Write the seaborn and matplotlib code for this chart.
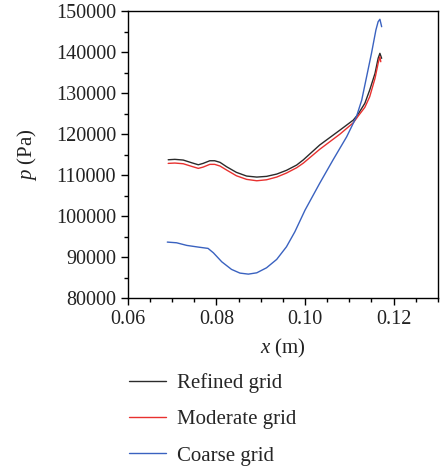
import numpy as np
import pandas as pd
import seaborn as sns
import matplotlib.pyplot as plt
from matplotlib.ticker import MultipleLocator

# refined grid
x_ref = [0.0691, 0.0706, 0.0725, 0.0744, 0.0759, 0.0770, 0.0785, 0.0796, 0.0808, 0.0823,
         0.0845, 0.0868, 0.0891, 0.0913, 0.0936, 0.0958, 0.0981, 0.0996, 0.1033, 0.1079,
         0.1109, 0.1120, 0.1135, 0.1146, 0.1158, 0.1165, 0.1169, 0.1173]
p_ref = [113730, 113830, 113660, 113000, 112510, 112850, 113490, 113490, 113100, 112020,
         110660, 109760, 109510, 109680, 110240, 111150, 112440, 113700, 117320, 120980,
         123410, 124880, 127490, 130730, 134800, 138460, 139680, 138460]

# moderate grid
x_mod = [0.0691, 0.0706, 0.0725, 0.0744, 0.0759, 0.0770, 0.0785, 0.0796, 0.0808, 0.0823,
         0.0845, 0.0868, 0.0891, 0.0913, 0.0936, 0.0958, 0.0981, 0.0996, 0.1033, 0.1079,
         0.1109, 0.1120, 0.1135, 0.1146, 0.1158, 0.1165, 0.1169, 0.1171]
p_mod = [112850, 112930, 112760, 112120, 111630, 111950, 112610, 112610, 112200, 111220,
         109830, 108950, 108610, 108850, 109510, 110490, 111780, 112900, 116270, 120000,
         122760, 124390, 126510, 129100, 133590, 137240, 138850, 137630]

# coarse grid
x_crs = [0.0689, 0.0710, 0.0733, 0.0759, 0.0781, 0.0793, 0.0812, 0.0834, 0.0853, 0.0872,
         0.0891, 0.0913, 0.0936, 0.0958, 0.0977, 0.1000, 0.1033, 0.1063, 0.1094, 0.1116,
         0.1128, 0.1139, 0.1150, 0.1160, 0.1165, 0.1169, 0.1173]
p_crs = [93660, 93490, 92850, 92440, 92120, 91050, 88850, 87000, 86100, 85850,
         86170, 87390, 89440, 92510, 96170, 101460, 107980, 113660, 119340, 124220,
         128290, 133980, 139680, 145370, 147390, 147980, 146170]

labels = ["Refined grid", "Moderate grid", "Coarse grid"]
colors = ["#2b2b2b", "#e8312f", "#3a62c0"]

df = pd.concat([
    pd.DataFrame({"x": x_ref, "p": p_ref, "grid": labels[0]}),
    pd.DataFrame({"x": x_mod, "p": p_mod, "grid": labels[1]}),
    pd.DataFrame({"x": x_crs, "p": p_crs, "grid": labels[2]}),
])

sns.set_style("ticks")
plt.rcParams["font.family"] = ["Liberation Serif", "DejaVu Serif"]
plt.rcParams["mathtext.fontset"] = "custom"
plt.rcParams["mathtext.it"] = "Liberation Serif:italic"
plt.rcParams["mathtext.rm"] = "Liberation Serif"

fig = plt.figure(figsize=(4.41, 4.68), dpi=100)
ax = fig.add_axes([0.290, 0.363, 0.703, 0.6135])

sns.lineplot(data=df, x="x", y="p", hue="grid", palette=colors, sort=False,
             estimator=None, linewidth=1.0, ax=ax, legend=False)

ax.set_xlim(0.06, 0.13)
ax.set_ylim(80000, 150000)
ax.xaxis.set_major_locator(MultipleLocator(0.02))
ax.xaxis.set_minor_locator(MultipleLocator(0.005))
ax.yaxis.set_major_locator(MultipleLocator(10000))
ax.yaxis.set_minor_locator(MultipleLocator(5000))
ax.xaxis.set_major_formatter(plt.FuncFormatter(lambda v, _: f"{v:.2f}"))
ax.yaxis.set_major_formatter(plt.FuncFormatter(lambda v, _: f"{int(v)}"))
ax.tick_params(which="major", length=5, width=1, labelsize=14.5, color="black", labelcolor="#222222")
ax.tick_params(which="minor", length=3, width=1, color="black")
for s in ax.spines.values():
    s.set_color("black")
    s.set_linewidth(1)

ax.set_xlabel("$x$ (m)", fontsize=15, color="#222222", labelpad=6)
ax.set_ylabel("$p$ (Pa)", fontsize=15, color="#222222", labelpad=12)

handles = [plt.Line2D([], [], color=c, linewidth=1.0) for c in colors]
fig.legend(handles, labels, loc="upper left", bbox_to_anchor=(0.27, 0.225),
           frameon=False, fontsize=15, handlelength=1.75, handletextpad=0.55,
           labelspacing=0.8, borderpad=0)

fig.savefig("out.png", dpi=100)
